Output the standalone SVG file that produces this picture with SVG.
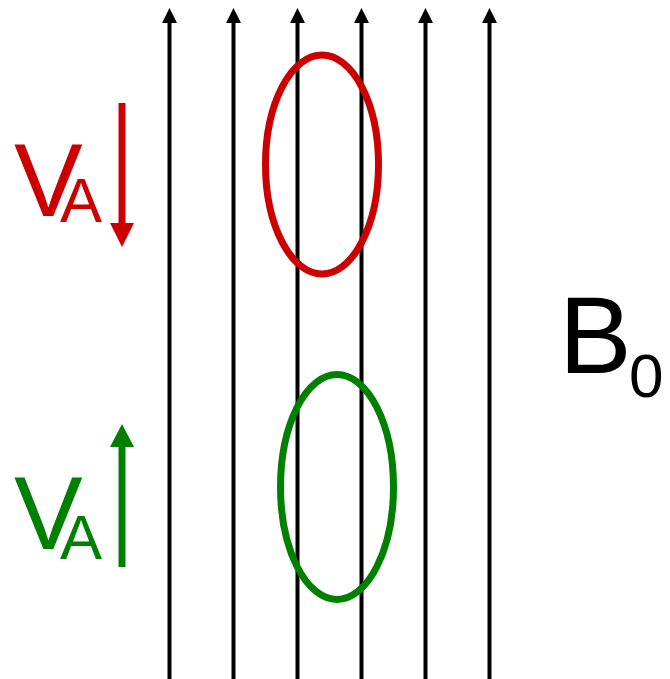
<svg xmlns="http://www.w3.org/2000/svg" width="670" height="679" viewBox="0 0 670 679">
<defs>
<style>
.fl{stroke:#000;stroke-width:4;fill:none}
.ah{fill:#000}
.lbl{font-family:"Liberation Sans",Arial,sans-serif}
.red{fill:#cc0000}
.green{fill:#008000}
</style>
</defs>
<rect width="670" height="679" fill="#fff"/>
<g id="field-lines">
<line class="fl" x1="169.5" y1="20" x2="169.5" y2="679"/>
<line class="fl" x1="233.5" y1="20" x2="233.5" y2="679"/>
<line class="fl" x1="297.5" y1="20" x2="297.5" y2="679"/>
<line class="fl" x1="361.5" y1="20" x2="361.5" y2="679"/>
<line class="fl" x1="425.5" y1="20" x2="425.5" y2="679"/>
<line class="fl" x1="489.5" y1="20" x2="489.5" y2="679"/>
<polygon class="ah" points="162,23 177,23 169.5,8"/>
<polygon class="ah" points="226,23 241,23 233.5,8"/>
<polygon class="ah" points="290,23 305,23 297.5,8"/>
<polygon class="ah" points="354,23 369,23 361.5,8"/>
<polygon class="ah" points="418,23 433,23 425.5,8"/>
<polygon class="ah" points="482,23 497,23 489.5,8"/>
</g>
<g id="red-loop">
<ellipse cx="322" cy="164.5" rx="56.5" ry="109.5" fill="none" stroke="#cc0000" stroke-width="7"/>
</g>
<g id="green-loop">
<ellipse cx="337" cy="487" rx="56.5" ry="112.5" fill="none" stroke="#008000" stroke-width="7"/>
</g>
<g id="va-red">
<text class="lbl red" x="14" y="216" font-size="103">V</text>
<text class="lbl red" x="60" y="222" font-size="63">A</text>
<rect class="red" x="118.5" y="103" width="7" height="122"/>
<polygon class="red" points="110,223 134,223 122,247"/>
</g>
<g id="va-green">
<text class="lbl green" x="14" y="549" font-size="103">V</text>
<text class="lbl green" x="60" y="559" font-size="63">A</text>
<rect class="green" x="118.5" y="445" width="7" height="122"/>
<polygon class="green" points="110,447 134,447 122,424"/>
</g>
<g id="b0">
<text class="lbl" x="559" y="373" font-size="109" fill="#000">B</text>
<text class="lbl" x="629" y="397" font-size="62" fill="#000">0</text>
</g>
</svg>
